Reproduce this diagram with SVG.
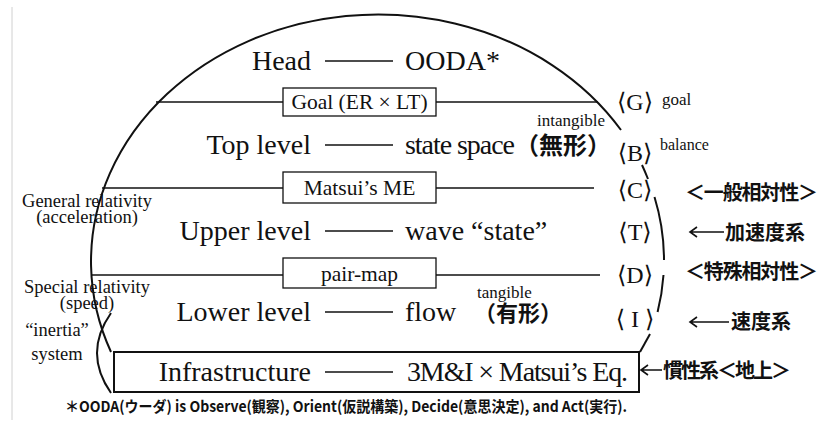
<svg xmlns="http://www.w3.org/2000/svg" width="826" height="426" viewBox="0 0 826 426">
<style>
.ser{font-family:'Liberation Serif','DejaVu Serif',serif;fill:#111}
.big{font-size:28px}
.box{font-size:21.5px}
.sm{font-size:17px}
.cjk{font-family:'Noto Sans CJK JP','Noto Sans',sans-serif;fill:#111;font-weight:bold}
.lab{font-size:20px}
.br{font-family:'Liberation Serif','DejaVu Serif','DejaVu Sans',serif;font-size:24px;fill:#111}
.ln{stroke:#111;stroke-width:1.5;fill:none}
.arc{stroke:#111;stroke-width:2;fill:none}
.bx{fill:#fff;stroke:#111;stroke-width:1.3}
.ar{stroke:#111;stroke-width:1.6;fill:none}
</style>
<line x1="12" y1="7" x2="12" y2="420" stroke="#d0d0d0" stroke-width="1"/>
<g id="connectors">
<path class="arc" d="M111,352 A287,247 0 0 1 621,130"/>
<path class="arc" d="M642,165 A287,247 0 0 1 648,179"/>
<path class="arc" d="M654.5,197 A287,247 0 0 1 664,260"/>
<path class="arc" d="M663.5,275 A287,247 0 0 1 657.6,312"/>
<path class="arc" d="M650,334 L640,352"/>
<path class="arc" d="M111,313 Q83,353 111,393"/>
<line class="ln" x1="156" y1="102" x2="283" y2="102"/>
<line class="ln" x1="436" y1="102" x2="598" y2="102"/>
<line class="ln" x1="102" y1="188" x2="283" y2="188"/>
<line class="ln" x1="436" y1="188" x2="594" y2="188"/>
<line class="ln" x1="91" y1="275" x2="283" y2="275"/>
<line class="ln" x1="436" y1="275" x2="600" y2="275"/>
</g>
<g id="head">
<text class="ser big" x="311" y="70" text-anchor="end">Head</text>
<line class="ln" x1="325" y1="61" x2="393" y2="61"/>
<text class="ser big" x="405" y="70">OODA*</text>
</g>
<g id="goal">
<rect class="bx" x="283" y="88" width="153" height="28"/>
<text class="ser box" x="359.5" y="109" text-anchor="middle">Goal (ER × LT)</text>
</g>
<g id="top-level">
<text class="ser big" x="311" y="154" text-anchor="end">Top level</text>
<line class="ln" x1="325" y1="145" x2="393" y2="145"/>
<text class="ser big" x="405" y="154" textLength="110">state space</text>
<text class="cjk" font-size="24" x="515" y="154">（無形）</text>
<text class="ser sm" x="537" y="126">intangible</text>
</g>
<g id="matsui-me">
<rect class="bx" x="283" y="172" width="153" height="31"/>
<text class="ser box" x="359.5" y="195" text-anchor="middle">Matsui’s ME</text>
</g>
<g id="upper-level">
<text class="ser big" x="311" y="240" text-anchor="end">Upper level</text>
<line class="ln" x1="325" y1="231" x2="393" y2="231"/>
<text class="ser big" x="405" y="240">wave “state”</text>
</g>
<g id="pair-map">
<rect class="bx" x="283" y="258" width="153" height="30"/>
<text class="ser box" x="359.5" y="281" text-anchor="middle">pair-map</text>
</g>
<g id="lower-level">
<text class="ser big" x="311" y="321" text-anchor="end">Lower level</text>
<line class="ln" x1="325" y1="312" x2="393" y2="312"/>
<text class="ser big" x="405" y="321">flow</text>
<text class="cjk" font-size="22" x="474" y="321">（有形）</text>
<text class="ser sm" x="477" y="298">tangible</text>
</g>
<g id="infrastructure">
<rect x="114" y="352" width="525" height="40" fill="#fff" stroke="#111" stroke-width="2"/>
<text class="ser big" x="311" y="381" text-anchor="end">Infrastructure</text>
<line class="ln" x1="325" y1="372" x2="393" y2="372"/>
<text class="ser big" x="407" y="381" textLength="221">3M&amp;I × Matsui’s Eq.</text>
</g>
<g id="left-labels">
<text class="ser" font-size="18.5" x="87" y="207" text-anchor="middle">General relativity</text>
<text class="ser" font-size="18.5" x="87" y="223" text-anchor="middle">(acceleration)</text>
<text class="ser" font-size="18.5" x="87" y="293" text-anchor="middle">Special relativity</text>
<text class="ser" font-size="18.5" x="87" y="309" text-anchor="middle">(speed)</text>
<text class="ser" font-size="18.5" x="57" y="336" text-anchor="middle">“inertia”</text>
<text class="ser" font-size="18.5" x="57" y="360" text-anchor="middle">system</text>
</g>
<g id="right-labels">
<text class="br" x="635" y="110" text-anchor="middle">⟨G⟩</text>
<text class="ser" font-size="17" x="662" y="105">goal</text>
<text class="br" x="635" y="161" text-anchor="middle">⟨B⟩</text>
<text class="ser" font-size="16" x="660" y="150">balance</text>
<text class="br" x="635" y="198" text-anchor="middle">⟨C⟩</text>
<text class="br" x="635" y="240" text-anchor="middle">⟨T⟩</text>
<text class="br" x="635" y="283" text-anchor="middle">⟨D⟩</text>
<text class="br" x="635" y="327" text-anchor="middle">⟨ I ⟩</text>
<text class="cjk lab" x="685" y="200" textLength="133" lengthAdjust="spacing">＜一般相対性＞</text>
<path class="ar" d="M724,232 H690 M697,227 L690,232 L697,237"/>
<text class="cjk lab" x="725" y="240">加速度系</text>
<text class="cjk lab" x="685" y="279" textLength="133" lengthAdjust="spacing">＜特殊相対性＞</text>
<path class="ar" d="M729,322 H690 M697,317 L690,322 L697,327"/>
<text class="cjk lab" x="731" y="329">速度系</text>
<path class="ar" d="M662,370 H641 M648,365 L641,370 L648,375"/>
<text class="cjk lab" x="663" y="378" textLength="128" lengthAdjust="spacing">慣性系＜地上＞</text>
</g>
<g id="footnote">
<text class="cjk" font-size="15" x="65" y="412" textLength="562" lengthAdjust="spacingAndGlyphs">＊OODA(ウーダ) is Observe(観察), Orient(仮説構築), Decide(意思決定), and Act(実行).</text>
</g>
</svg>
